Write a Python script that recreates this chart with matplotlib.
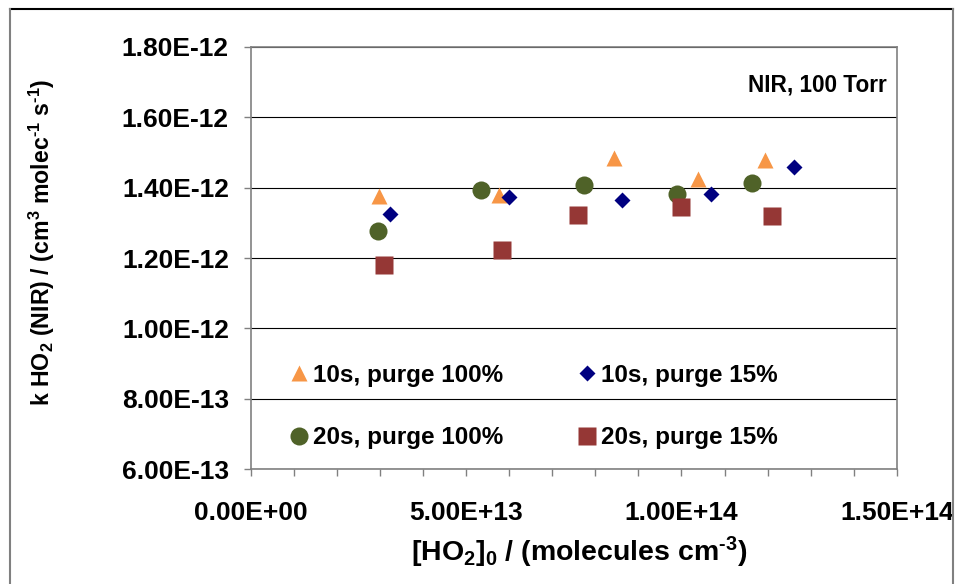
import matplotlib
matplotlib.use("Agg")
import matplotlib.pyplot as plt
from matplotlib.lines import Line2D
from matplotlib.ticker import FixedLocator, MultipleLocator

plt.rcParams["font.family"] = ["Liberation Sans", "DejaVu Sans"]
plt.rcParams["font.weight"] = "bold"
plt.rcParams["mathtext.fontset"] = "custom"
plt.rcParams["mathtext.rm"] = "Liberation Sans:bold"
plt.rcParams["mathtext.bf"] = "Liberation Sans:bold"
plt.rcParams["mathtext.it"] = "Liberation Sans:bold"
plt.rcParams["mathtext.default"] = "rm"

# [HO2]0 (molecules cm-3) and k (cm3 molec-1 s-1) for each run series
x_10s_100 = [2.97e13, 5.77e13, 8.43e13, 1.039e14, 1.195e14]
k_10s_100 = [1.376e-12, 1.378e-12, 1.485e-12, 1.423e-12, 1.478e-12]

x_10s_15 = [3.22e13, 5.99e13, 8.63e13, 1.068e14, 1.261e14]
k_10s_15 = [1.326e-12, 1.372e-12, 1.366e-12, 1.381e-12, 1.457e-12]

x_20s_100 = [2.95e13, 5.34e13, 7.74e13, 9.90e13, 1.164e14]
k_20s_100 = [1.276e-12, 1.394e-12, 1.408e-12, 1.383e-12, 1.414e-12]

x_20s_15 = [3.09e13, 5.84e13, 7.60e13, 1.000e14, 1.211e14]
k_20s_15 = [1.181e-12, 1.222e-12, 1.323e-12, 1.345e-12, 1.318e-12]

series_labels = ["10s, purge 100%", "10s, purge 15%", "20s, purge 100%", "20s, purge 15%"]

y_ticks = [6.0e-13, 8.0e-13, 1.0e-12, 1.2e-12, 1.4e-12, 1.6e-12, 1.8e-12]
y_tick_labels = ["6.00E-13", "8.00E-13", "1.00E-12", "1.20E-12", "1.40E-12", "1.60E-12", "1.80E-12"]
x_ticks = [0.0, 5.0e13, 1.0e14, 1.5e14]
x_tick_labels = ["0.00E+00", "5.00E+13", "1.00E+14", "1.50E+14"]

W, H = 956, 584
fig = plt.figure(figsize=(W / 100, H / 100), dpi=100)

# outer chart frame
fig.add_artist(Line2D([10 / W, 953 / W], [1 - 9 / H, 1 - 9 / H], color="#000000", lw=1.5,
                      transform=fig.transFigure))
fig.add_artist(Line2D([10 / W, 10 / W], [0, 1 - 9 / H], color="#808080", lw=1.5,
                      transform=fig.transFigure))
fig.add_artist(Line2D([953 / W, 953 / W], [0, 1 - 9 / H], color="#808080", lw=1.5,
                      transform=fig.transFigure))

left, right, top, bottom = 251, 896.7, 46.7, 469.3
ax = fig.add_axes([left / W, 1 - bottom / H, (right - left) / W, (bottom - top) / H])

ax.set_xlim(0, 1.5e14)
ax.set_ylim(6.0e-13, 1.8e-12)

ax.yaxis.set_major_locator(FixedLocator(y_ticks))
ax.set_yticklabels(y_tick_labels)
ax.xaxis.set_major_locator(FixedLocator(x_ticks))
ax.set_xticklabels(x_tick_labels)
ax.xaxis.set_minor_locator(MultipleLocator(1e13))

ax.grid(axis="y", color="#000000", lw=0.8)
ax.set_axisbelow(True)

for side in ["left", "bottom", "top", "right"]:
    ax.spines[side].set_color("#808080")
    ax.spines[side].set_linewidth(1.2)

ax.tick_params(axis="both", which="both", direction="out", length=5, width=1.0,
               color="#808080", labelsize=19, labelcolor="#000000")
ax.tick_params(axis="y", pad=11)
ax.tick_params(axis="x", pad=18)

l1, = ax.plot(x_10s_100, k_10s_100, ls="none", marker="^", ms=12, color="#F79646",
              mec="none", label=series_labels[0])
l2, = ax.plot(x_10s_15, k_10s_15, ls="none", marker="D", ms=8.5, color="#000080",
              mec="none", label=series_labels[1])
l3, = ax.plot(x_20s_100, k_20s_100, ls="none", marker="o", ms=13, color="#4F6228",
              mec="none", label=series_labels[2])
l4, = ax.plot(x_20s_15, k_20s_15, ls="none", marker="s", ms=13, color="#953735",
              mec="none", label=series_labels[3])

ax.legend(handles=[l1, l3, l2, l4], ncol=2, loc="upper left",
          bbox_to_anchor=(0.06, 0.25), frameon=False, fontsize=17.5,
          handlelength=0.8, handletextpad=0.15, columnspacing=3.06,
          labelspacing=1.62, borderpad=0, borderaxespad=0)

ax.text(0.985, 0.91, "NIR, 100 Torr", transform=ax.transAxes, ha="right", va="center",
        fontsize=16.3, fontweight="bold")

ax.set_xlabel("[HO$_2$]$_0$ / (molecules cm$^{\u20103}$)", fontsize=20.5,
              fontweight="bold")
ax.set_ylabel("k HO$_2$ (NIR) / (cm$^3$ molec$^{\u20101}$ s$^{\u20101}$)", fontsize=16.7,
              fontweight="bold")
ax.xaxis.set_label_coords(0.508, -0.155)
ax.yaxis.set_label_coords(-0.30, 0.537)

fig.savefig("out.png", dpi=100)
